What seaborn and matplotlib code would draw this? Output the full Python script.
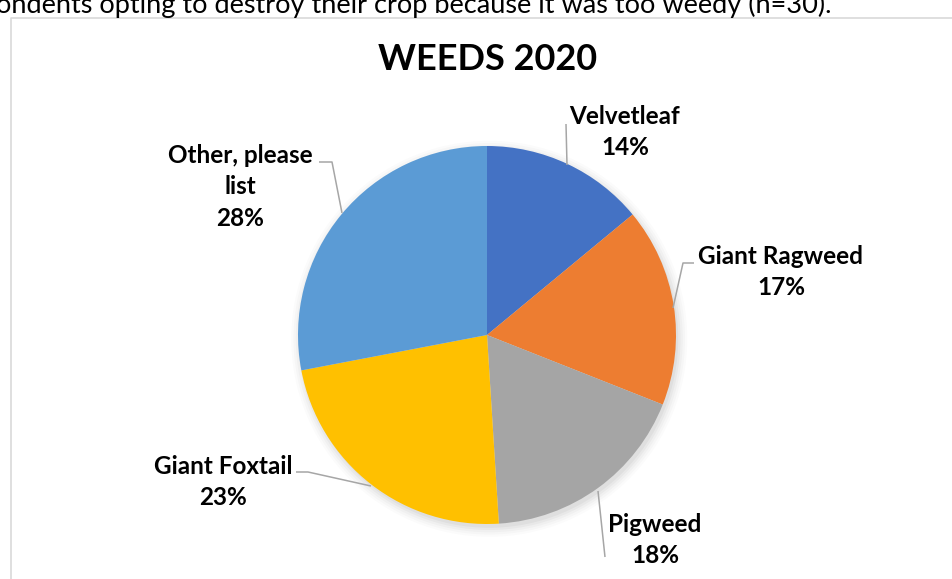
import matplotlib
matplotlib.use("Agg")
import matplotlib.pyplot as plt
from matplotlib.patches import Circle
import seaborn as sns

# Weed species reported, share of respondents
categories = ["Velvetleaf", "Giant Ragweed", "Pigweed", "Giant Foxtail", "Other, please\nlist"]
values = [14, 17, 18, 23, 28]
colors = ["#4472C4", "#ED7D31", "#A5A5A5", "#FFC000", "#5B9BD5"]
title = "WEEDS 2020"
caption = "ondents opting to destroy their crop because it was too weedy (n=30)."

sns.set_theme(style="white")
plt.rcParams["font.family"] = ["Lato", "DejaVu Sans"]

W, H, DPI = 952, 579, 100
fig = plt.figure(figsize=(W / DPI, H / DPI), dpi=DPI)
ax = fig.add_axes([0, 0, 1, 1])

# pixel layout of the pie
CX, CY, R = 487, 335, 189


def d(px, py):
    """pixel position -> data coords (pie radius = 1)"""
    return (px - CX) / R, (CY - py) / R


# soft shadow beneath the pie
for i, a in enumerate([0.035, 0.03, 0.025, 0.02, 0.015]):
    ax.add_patch(Circle((0.012, -0.02), 1.0 + 0.012 * i, color="black", alpha=a,
                        lw=0, zorder=1))

wedges, _ = ax.pie(values, colors=sns.color_palette(colors), startangle=90,
                   counterclock=False, radius=1.0, center=(0, 0),
                   wedgeprops=dict(linewidth=0, zorder=2), frame=True)
ax.set_xlim(d(0, 0)[0], d(W, 0)[0])
ax.set_ylim(d(0, H)[1], d(0, 0)[1])
ax.set_aspect("auto")
ax.axis("off")

total = sum(values)
labels = [f"{c}\n{v / total * 100:.0f}%" for c, v in zip(categories, values)]

# label centres (px) and leader polylines (px)
label_pos = [(625, 132), (781, 272), (655, 540), (223, 482), (240, 187)]
leaders = [
    [(566, 124), (567, 165)],
    [(694, 263), (683, 263), (673, 308)],
    [(598, 491), (605, 557)],
    [(296, 472), (308, 472), (371, 486)],
    [(319, 162), (332, 162), (342, 213)],
]

for text, (px, py), pts in zip(labels, label_pos, leaders):
    x, y = d(px, py)
    ax.text(x, y, text, ha="center", va="center", fontsize=17.5, fontweight="bold",
            color="#000000", linespacing=1.45, multialignment="center", zorder=5)
    xs = [d(*p)[0] for p in pts]
    ys = [d(*p)[1] for p in pts]
    ax.plot(xs, ys, color="#a6a6a6", lw=1.1, zorder=4, solid_capstyle="butt")

# title
tx, ty = d(CX + 1, 59)
ax.text(tx, ty, title, ha="center", va="center", fontsize=26, fontweight="bold",
        color="#000000", zorder=5)

# chart area border
bx, by = d(11, 18)
ax.plot([bx, bx, d(W + 5, 0)[0]], [d(0, H + 5)[1], by, by], color="#d9d9d9",
        lw=1.2, zorder=3, clip_on=False)

# running caption above the chart
cx, cy = d(-4, 13)
ax.text(cx, cy, caption, ha="left", va="baseline", fontsize=19.5, color="#000000",
        zorder=5)

fig.savefig("out.png", dpi=DPI, facecolor="white")
